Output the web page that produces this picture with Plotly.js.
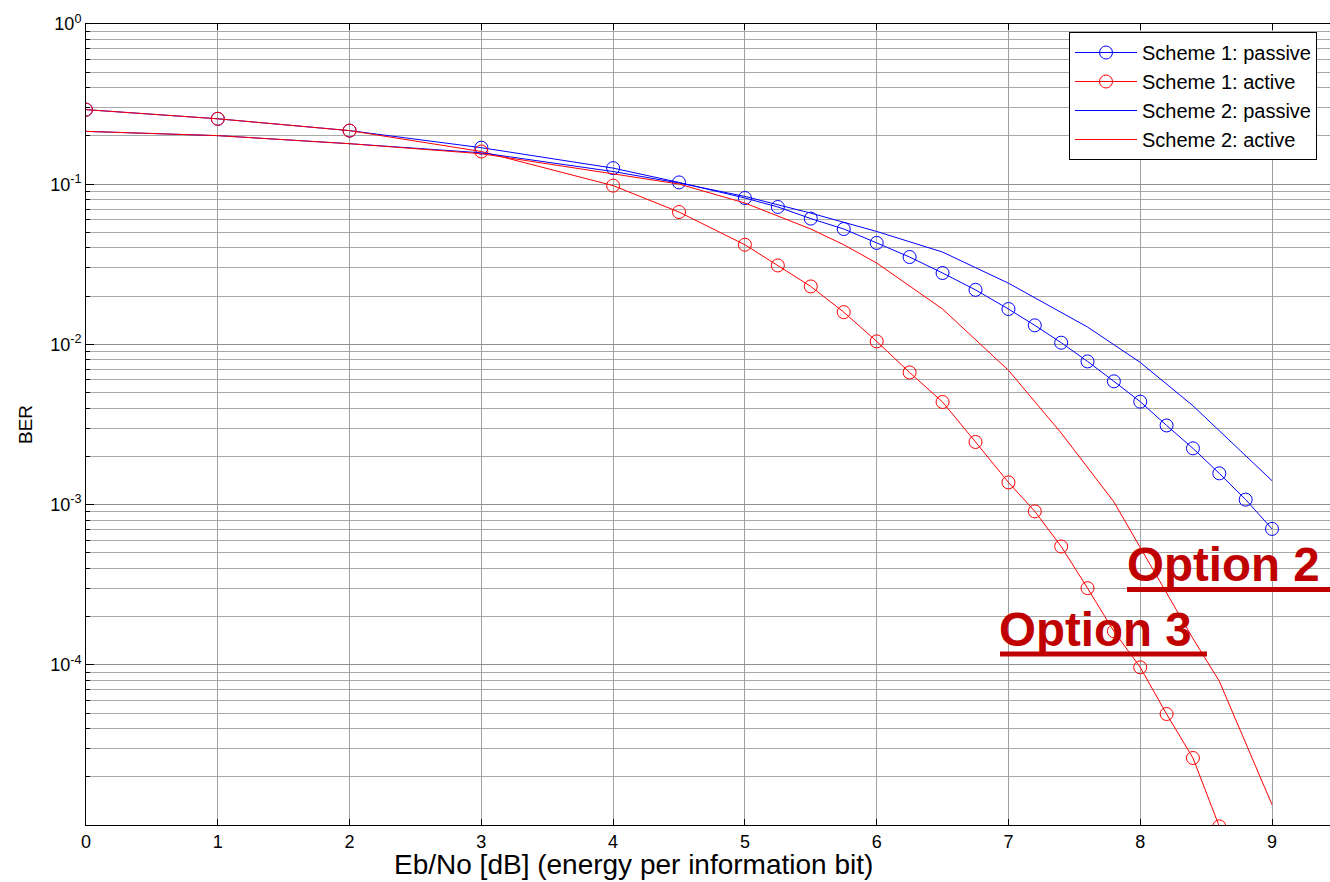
<!DOCTYPE html>
<html>
<head>
<meta charset="utf-8">
<script src="https://cdn.plot.ly/plotly-3.0.1.min.js"></script>
<style>
  html, body { margin: 0; padding: 0; background: #fff; }
  #chart { width: 1330px; height: 882px; }
</style>
</head>
<body>
<div id="chart"></div>
<script>
// ---- data ----
const s1x = [0, 1, 2, 3, 4, 4.5, 5, 5.25, 5.5, 5.75, 6, 6.25, 6.5, 6.75, 7, 7.2, 7.4, 7.6, 7.8, 8, 8.2, 8.4, 8.6, 8.8, 9];
const s1Passive = [0.292, 0.256, 0.216, 0.169, 0.126, 0.1026, 0.082, 0.0721, 0.061, 0.0525, 0.043, 0.0351, 0.0279, 0.0219,
                   0.01663, 0.01315, 0.01025, 0.00783, 0.00588, 0.00439, 0.00312, 0.002245, 0.001567, 0.001074, 0.000705];

const s1ax = [0, 1, 2, 3, 4, 4.5, 5, 5.25, 5.5, 5.75, 6, 6.25, 6.5, 6.75, 7, 7.2, 7.4, 7.6, 7.8, 8, 8.2, 8.4, 8.6];
const s1Active = [0.292, 0.256, 0.216, 0.160, 0.098, 0.067, 0.0419, 0.0311, 0.0230, 0.0159, 0.01044, 0.00668, 0.00437, 0.00246,
                  0.001376, 0.000907, 0.000548, 0.000301, 0.000162, 0.0000964, 0.0000493, 0.0000262, 0.0000098];

const s2px = [0, 1, 2, 3, 4, 4.5, 5, 5.5, 6, 6.5, 7, 7.6, 8, 8.4, 9];
const s2Passive = [0.2137, 0.201, 0.179, 0.157, 0.120, 0.1017, 0.0839, 0.066, 0.0507, 0.0377, 0.0241, 0.01284, 0.00772, 0.00414, 0.00141];

const s2ax = [0, 1, 2, 3, 4, 4.5, 5, 5.5, 5.75, 6, 6.5, 7, 7.4, 7.8, 8, 8.2, 8.4, 8.6, 8.8, 9];
const s2Active = [0.2137, 0.201, 0.179, 0.155, 0.116, 0.1002, 0.0763, 0.0525, 0.0419, 0.0322, 0.01663, 0.00689, 0.0028, 0.00104,
                  0.00054, 0.000283, 0.000146, 0.000079, 0.0000327, 0.0000134];

const names = ['Scheme 1: passive', 'Scheme 1: active', 'Scheme 2: passive', 'Scheme 2: active'];
const xTickVals = [0, 1, 2, 3, 4, 5, 6, 7, 8, 9];
const yTickVals = [1, 0.1, 0.01, 0.001, 0.0001];
const yTickText = ['10<sup>0</sup>', '10<sup>-1</sup>', '10<sup>-2</sup>', '10<sup>-3</sup>', '10<sup>-4</sup>'];
const yMinorVals = [];
[1e-5, 1e-4, 1e-3, 1e-2, 1e-1].forEach(d => { for (let k = 2; k <= 9; k++) yMinorVals.push(k * d); });

const BLUE = '#0000ff', RED = '#ff0000';
const FONT = 'Liberation Sans, Arial, sans-serif';

const traces = [
  { x: s1x, y: s1Passive, name: names[0], mode: 'lines+markers',
    line: { color: BLUE, width: 1 }, marker: { symbol: 'circle-open', size: 13, color: BLUE, line: { width: 1 } } },
  { x: s1ax, y: s1Active, name: names[1], mode: 'lines+markers',
    line: { color: RED, width: 1 }, marker: { symbol: 'circle-open', size: 13, color: RED, line: { width: 1 } } },
  { x: s2px, y: s2Passive, name: names[2], mode: 'lines',
    line: { color: BLUE, width: 1 } },
  { x: s2ax, y: s2Active, name: names[3], mode: 'lines',
    line: { color: RED, width: 1 } }
];

const W = 1244, H = 801, L = 86, T = 24;
const px = v => (v - L) / W;
const py = v => (T + H - v) / H;

const layout = {
  width: 1330, height: 882,
  margin: { l: L, r: 0, t: T, b: 882 - T - H },
  paper_bgcolor: '#fff', plot_bgcolor: '#fff',
  font: { family: FONT, size: 18, color: '#000' },
  showlegend: true,
  legend: {
    x: px(1069), y: py(32), xanchor: 'left', yanchor: 'top',
    bgcolor: '#fff', bordercolor: '#000', borderwidth: 1,
    font: { family: FONT, size: 20, color: '#000' },
    itemwidth: 62, entrywidthmode: 'pixels', entrywidth: 200
  },
  xaxis: {
    type: 'linear', range: [0, 9.44], tickmode: 'array', tickvals: xTickVals,
    ticks: 'inside', ticklen: 6, tickcolor: '#000', tickwidth: 1,
    showline: true, linecolor: '#000', linewidth: 1, mirror: 'ticks',
    showgrid: true, gridcolor: '#a0a0a0', gridwidth: 1, zeroline: false,
    tickfont: { family: FONT, size: 18 }
  },
  yaxis: {
    type: 'log', range: [-5, 0], tickmode: 'array', tickvals: yTickVals, ticktext: yTickText,
    ticks: 'inside', ticklen: 8, tickcolor: '#000', tickwidth: 1,
    showline: true, linecolor: '#000', linewidth: 1, mirror: false,
    showgrid: true, gridcolor: '#909090', gridwidth: 1, zeroline: false,
    tickfont: { family: FONT, size: 18 },
    minor: { tickmode: 'array', tickvals: yMinorVals, ticks: 'inside', ticklen: 4, tickcolor: '#000',
             showgrid: true, gridcolor: '#a8a8a8', gridwidth: 1 },
    title: { text: 'BER', font: { family: FONT, size: 19 }, standoff: 12 }
  },
  annotations: [
    { xref: 'paper', yref: 'paper', x: px(633), y: py(865), xanchor: 'center', yanchor: 'middle',
      text: 'Eb/No [dB] (energy per information bit)', showarrow: false, font: { family: FONT, size: 28, color: '#000' } },
    { xref: 'paper', yref: 'paper', x: px(1125), y: py(564), xanchor: 'left', yanchor: 'middle',
      text: '<b>Option 2</b>', showarrow: false, font: { family: FONT, size: 47.5, color: '#c00000' } },
    { xref: 'paper', yref: 'paper', x: px(997), y: py(629), xanchor: 'left', yanchor: 'middle',
      text: '<b>Option 3</b>', showarrow: false, font: { family: FONT, size: 47.5, color: '#c00000' } }
  ],
  shapes: [
    { type: 'line', xref: 'paper', yref: 'paper', x0: px(1127), x1: 1, y0: py(589.5), y1: py(589.5),
      line: { color: '#c00000', width: 5 } },
    { type: 'line', xref: 'paper', yref: 'paper', x0: px(1000), x1: px(1207), y0: py(654), y1: py(654),
      line: { color: '#c00000', width: 5 } }
  ]
};

Plotly.newPlot('chart', traces, layout, { staticPlot: true, displayModeBar: false });
</script>
</body>
</html>
